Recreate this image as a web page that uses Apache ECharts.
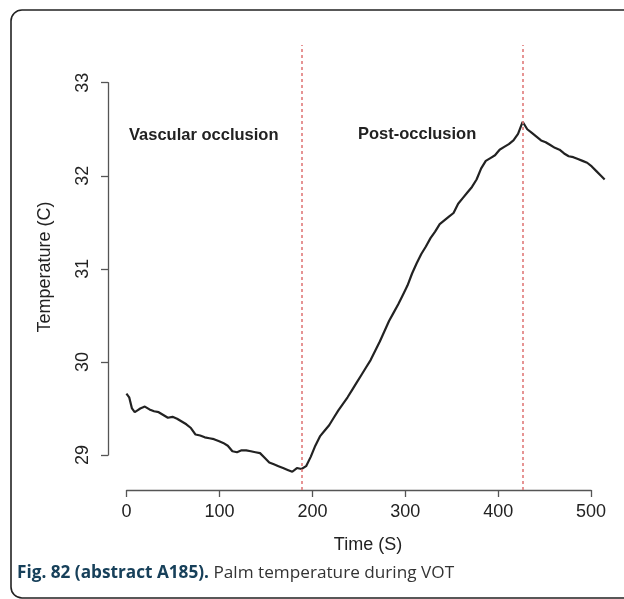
<!DOCTYPE html>
<html>
<head>
<meta charset="utf-8">
<script src="https://cdn.jsdelivr.net/npm/echarts@6/dist/echarts.min.js"></script>
<style>
html,body{margin:0;padding:0;background:#fff;}
#chart{width:624px;height:599px;}
</style>
</head>
<body>
<div id="chart"></div>
<script>
// ---- data ----
const timeS = [0,3,6,9,12,15,20,25,30,35,40,45,50,55,60,65,70,75,80,85,90,95,100,105,110,115,120,125,130,135,140,145,150,155,160,165,170,175,180,185,190,195,200,205,210,215,220,225,230,235,240,245,250,255,260,265,270,275,280,285,290,295,300,305,310,315,320,325,330,335,340,345,350,355,360,365,370,375,380,385,390,395,400,405,410,415,420,425,430,435,440,445,450,455,460,465,470,475,480,485,490,495,500,505,510,515,519];
const tempC = [29.66,29.62,29.50,29.46,29.48,29.50,29.52,29.49,29.47,29.46,29.43,29.40,29.41,29.39,29.36,29.33,29.29,29.22,29.21,29.19,29.18,29.17,29.15,29.13,29.10,29.04,29.03,29.05,29.05,29.04,29.03,29.02,28.97,28.92,28.90,28.88,28.86,28.84,28.82,28.86,28.85,28.88,28.98,29.10,29.20,29.26,29.32,29.40,29.48,29.55,29.62,29.70,29.78,29.86,29.94,30.02,30.12,30.22,30.33,30.44,30.53,30.62,30.72,30.82,30.95,31.06,31.16,31.24,31.33,31.40,31.48,31.52,31.56,31.60,31.70,31.76,31.82,31.88,31.96,32.08,32.16,32.19,32.22,32.28,32.31,32.34,32.38,32.45,32.58,32.50,32.46,32.42,32.38,32.36,32.33,32.30,32.28,32.24,32.21,32.20,32.18,32.16,32.14,32.10,32.05,32.00,31.96];
const phaseLines = [190, 430];
const phaseLabels = ['Vascular occlusion', 'Post-occlusion'];
const xTicks = [0, 100, 200, 300, 400, 500];
const yTicks = [29, 30, 31, 32, 33];
const xTitle = 'Time (S)';
const yTitle = 'Temperature (C)';
const captionBold = 'Fig. 82 (abstract A185).';
const captionText = ' Palm temperature during VOT';

const points = timeS.map((t, i) => [t, tempC[i]]);
const AX = '#555';
const TXT = '#222';
const FONT = 'Liberation Sans, Arial, Helvetica, sans-serif';

const chart = echarts.init(document.getElementById('chart'), null, {renderer: 'canvas'});
chart.setOption({
  backgroundColor: '#fff',
  animation: false,
  grid: [
    {left: 108, top: 45, width: 520, height: 445},
    {left: 126.6, top: 45, width: 464.5, height: 445},
    {left: 108, top: 82.7, width: 300, height: 372.3}
  ],
  xAxis: [
    {gridIndex: 0, type: 'value', min: -20, max: 540, show: false},
    {gridIndex: 1, type: 'value', min: xTicks[0], max: xTicks[xTicks.length-1], interval: 100,
     axisLine: {show: true, onZero: false, lineStyle: {color: AX, width: 1.3}},
     axisTick: {show: true, length: 7, lineStyle: {color: AX, width: 1.3}},
     axisLabel: {show: true, fontSize: 18, color: TXT, fontFamily: FONT, margin: 13},
     splitLine: {show: false}},
    {gridIndex: 2, type: 'value', show: false}
  ],
  yAxis: [
    {gridIndex: 0, type: 'value', min: 28.624, max: 33.405, show: false},
    {gridIndex: 1, type: 'value', show: false},
    {gridIndex: 2, type: 'value', min: yTicks[0], max: yTicks[yTicks.length-1], interval: 1,
     axisLine: {show: true, onZero: false, lineStyle: {color: AX, width: 1.3}},
     axisTick: {show: true, length: 7, lineStyle: {color: AX, width: 1.3}},
     axisLabel: {show: true, fontSize: 18, color: TXT, fontFamily: FONT, rotate: 90, margin: 16},
     splitLine: {show: false}}
  ],
  series: [{
    type: 'line',
    xAxisIndex: 0, yAxisIndex: 0,
    data: points,
    showSymbol: false,
    lineStyle: {color: '#222', width: 2.2},
    markLine: {
      silent: true,
      symbol: 'none',
      label: {show: false},
      lineStyle: {color: '#e07a7a', type: [3, 3], width: 1.6},
      data: phaseLines.map(v => ({xAxis: v}))
    }
  }],
  graphic: [
    {type: 'rect', shape: {x: 11, y: 10, width: 700, height: 588, r: 11},
     style: {fill: 'none', stroke: '#222', lineWidth: 1.6}, z: 100},
    {type: 'text', x: 129, y: 135,
     style: {text: phaseLabels[0], font: 'bold 16.5px ' + FONT, fill: TXT, textAlign: 'left', textVerticalAlign: 'middle'}},
    {type: 'text', x: 358, y: 134,
     style: {text: phaseLabels[1], font: 'bold 16.5px ' + FONT, fill: TXT, textAlign: 'left', textVerticalAlign: 'middle'}},
    {type: 'text', x: 368, y: 545,
     style: {text: xTitle, font: '18px ' + FONT, fill: TXT, textAlign: 'center', textVerticalAlign: 'middle'}},
    {type: 'text', x: 45, y: 267, rotation: Math.PI / 2,
     style: {text: yTitle, font: '18px ' + FONT, fill: TXT, textAlign: 'center', textVerticalAlign: 'middle'}},
    {type: 'text', x: 17, y: 573,
     style: {text: '{b|' + captionBold + '}{r|' + captionText + '}', textVerticalAlign: 'middle',
       rich: {
         b: {fontFamily: 'Open Sans, sans-serif', fontWeight: 'bold', fontSize: 17.2, fill: '#17405a', color: '#17405a'},
         r: {fontFamily: 'Open Sans, sans-serif', fontSize: 17.2, fill: '#333', color: '#333'}
       }}}
  ]
});
</script>
</body>
</html>
